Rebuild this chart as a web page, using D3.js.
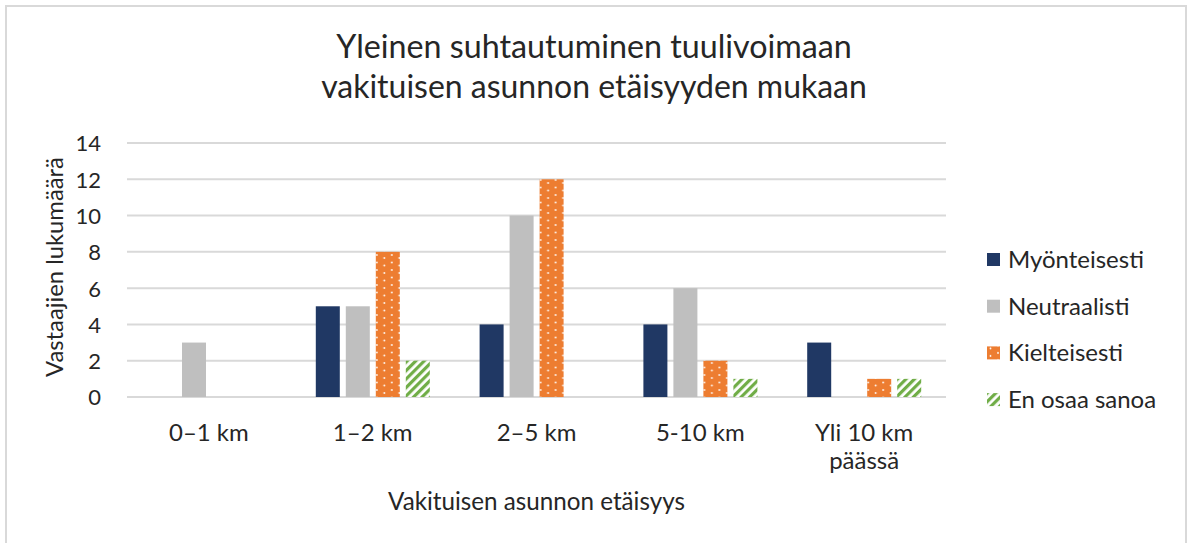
<!DOCTYPE html>
<html>
<head>
<meta charset="utf-8">
<script src="https://cdn.jsdelivr.net/npm/d3@7"></script>
<style>
  html, body { margin: 0; padding: 0; background: #fff; }
  svg { display: block; }
  text { font-family: Lato, "Open Sans", sans-serif; fill: #262626; }
</style>
</head>
<body>
<svg id="chart" width="1187" height="543"></svg>
<script>
// ---- data ----
const categories = ["0–1 km", "1–2 km", "2–5 km", "5-10 km", "Yli 10 km\npäässä"];
const seriesNames = ["Myönteisesti", "Neutraalisti", "Kielteisesti", "En osaa sanoa"];
const myonteisesti = [0, 5, 4, 4, 3];
const neutraalisti = [3, 5, 10, 6, 0];
const kielteisesti = [0, 8, 12, 2, 1];
const enOsaaSanoa = [0, 2, 0, 1, 1];
const yTicks = [0, 2, 4, 6, 8, 10, 12, 14];
const titleLines = ["Yleinen suhtautuminen tuulivoimaan", "vakituisen asunnon etäisyyden mukaan"];
const yTitle = "Vastaajien lukumäärä";
const xTitle = "Vakituisen asunnon etäisyys";

const seriesValues = [myonteisesti, neutraalisti, kielteisesti, enOsaaSanoa];

// ---- layout ----
const svg = d3.select("#chart");
const plot = { left: 127, right: 946, top: 143, bottom: 397 };

// frame
svg.append("rect").attr("x", 6).attr("y", 6).attr("width", 1180).attr("height", 545)
  .attr("fill", "#fff").attr("stroke", "#d9d9d9").attr("stroke-width", 2);

// patterns
const defs = svg.append("defs");
const dots = defs.append("pattern").attr("id", "dots").attr("patternUnits", "userSpaceOnUse")
  .attr("width", 15).attr("height", 15);
dots.append("rect").attr("width", 15).attr("height", 15).attr("fill", "#ED7D31");
[[3.5, 3], [11, 7.5], [3.5, 10.5], [11, 0], [11, 15]].forEach(([cx, cy]) => {
  dots.append("circle").attr("cx", cx).attr("cy", cy).attr("r", 0.9).attr("fill", "#fff");
});
const stripes = defs.append("pattern").attr("id", "stripes").attr("patternUnits", "userSpaceOnUse")
  .attr("width", 6).attr("height", 6).attr("patternTransform", "rotate(45)");
stripes.append("rect").attr("width", 6).attr("height", 6).attr("fill", "#fff");
stripes.append("rect").attr("width", 3.2).attr("height", 6).attr("fill", "#70AD47");

const fills = ["#203864", "#BFBFBF", "url(#dots)", "url(#stripes)"];

// scales
const x0 = d3.scaleBand().domain(categories).range([plot.left, plot.right]);
const x1 = d3.scaleBand().domain(seriesNames).range([25, 139]).paddingInner(0.2);
const y = d3.scaleLinear().domain([0, 14]).range([plot.bottom, plot.top]);

// fit helper
function fit(sel, target) {
  sel.attr("font-size", 100);
  const w = sel.node().getComputedTextLength();
  const fs = 100 * target / w;
  sel.attr("font-size", fs);
  return fs;
}

// gridlines
svg.append("g").selectAll("line").data(yTicks).join("line")
  .attr("x1", plot.left).attr("x2", plot.right)
  .attr("y1", d => y(d)).attr("y2", d => y(d))
  .attr("stroke", "#d9d9d9").attr("stroke-width", 2);

// y axis labels
const yAxis = d3.axisLeft(y).tickValues(yTicks).tickSize(0).tickPadding(0);
const yg = svg.append("g").attr("transform", `translate(${101},0)`).call(yAxis);
yg.select(".domain").remove();
yg.selectAll("text").attr("font-size", 22).attr("font-family", "Lato, sans-serif").attr("fill", "#262626").attr("dy", "0.36em");

// bars
const groups = svg.append("g").selectAll("g").data(categories).join("g")
  .attr("transform", d => `translate(${x0(d)},0)`);
groups.selectAll("rect").data((c, ci) => seriesNames.map((s, si) => ({ s, si, v: seriesValues[si][ci] })))
  .join("rect")
  .filter(d => d.v > 0)
  .attr("x", d => x1(d.s)).attr("width", x1.bandwidth())
  .attr("y", d => y(d.v)).attr("height", d => y(0) - y(d.v))
  .attr("fill", d => fills[d.si]);

// legend size reference
const tmp = svg.append("text").text("Myönteisesti");
const baseFs = fit(tmp, 136);
tmp.remove();

// x category labels
const xg = svg.append("g");
categories.forEach(c => {
  const lines = c.split("\n");
  const t = xg.append("text").attr("text-anchor", "middle").attr("font-size", baseFs);
  lines.forEach((ln, i) => {
    t.append("tspan").attr("x", x0(c) + x0.bandwidth() / 2).attr("y", 441 + i * 28).text(ln);
  });
});

// title
titleLines.forEach((ln, i) => {
  const t = svg.append("text").attr("text-anchor", "middle").attr("x", 594).attr("y", 58 + i * 40).text(ln);
  fit(t, i === 0 ? 516 : 546);
});

// axis titles
const yt = svg.append("text").attr("text-anchor", "middle")
  .attr("transform", `translate(${63},${267}) rotate(-90)`).text(yTitle);
fit(yt, 220);
const xt = svg.append("text").attr("text-anchor", "middle").attr("x", (plot.left + plot.right) / 2).attr("y", 510).text(xTitle);
fit(xt, 297);

// legend
const lg = svg.append("g").selectAll("g").data(seriesNames).join("g")
  .attr("transform", (d, i) => `translate(987,${259.5 + i * 46.7})`);
lg.append("rect").attr("x", 0).attr("y", -6.5).attr("width", 13).attr("height", 13)
  .attr("fill", (d, i) => fills[i]);
lg.append("text").attr("x", 21).attr("y", 0).attr("dy", "0.35em").attr("font-size", baseFs).text(d => d);
</script>
</body>
</html>
